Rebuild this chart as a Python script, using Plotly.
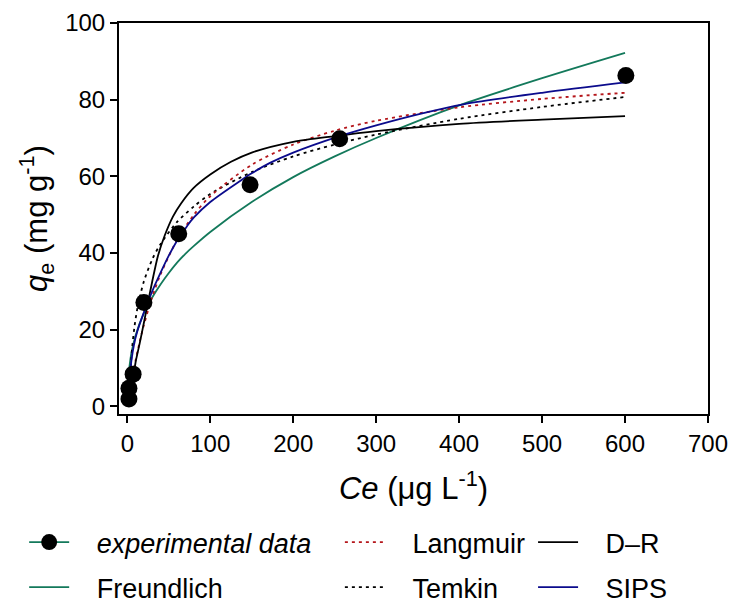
import plotly.graph_objects as go

# Experimental data
ce_exp = [2, 2, 7, 20, 62, 148, 256, 601]
qe_exp = [1.9, 4.7, 8.4, 27.1, 45.0, 57.8, 69.8, 86.3]

# Model curves
freundlich_x = [2, 5, 10, 20, 30, 40, 50, 60, 70, 80, 100, 150, 200, 250, 300, 400, 500, 600]
freundlich_y = [9.3, 14, 18.5, 24.3, 28.4, 31.8, 34.8, 37.5, 39.8, 41.8, 45.5, 53.3, 59.8, 65.2, 70, 78.5, 85.6, 92.2]

langmuir_x = [2, 5, 10, 15, 20, 30, 40, 60, 80, 100, 150, 200, 250, 300, 400, 500, 600]
langmuir_y = [2.7, 6.4, 12.0, 16.9, 21.2, 28.5, 34.4, 43.4, 49.9, 54.8, 63.0, 68.3, 71.9, 74.5, 78.0, 80.2, 81.8]

dr_x = [2, 5, 8, 10, 15, 20, 25, 30, 37, 45, 55, 65, 80, 100, 125, 150, 200, 250, 300, 400, 500, 600]
dr_y = [0.5, 4, 8.5, 11.5, 16.5, 21.8, 27.2, 32.5, 39.3, 44.5, 49.5, 53, 57, 60.5, 63.8, 66.2, 69, 70.5, 71.8, 73.7, 74.8, 75.7]

temkin_x = [2.5, 4, 6, 9, 13, 20, 30, 40, 60, 80, 100, 150, 200, 250, 300, 400, 500, 600]
temkin_y = [3, 9.8, 15.6, 21.3, 26.5, 32.6, 38.3, 42.3, 48.1, 52.1, 55.4, 61.1, 65.2, 68.3, 70.9, 75, 78.1, 80.7]

sips_x = [2, 5, 8, 12, 20, 30, 40, 50, 60, 72, 80, 100, 136, 150, 172, 200, 256, 300, 353, 405, 500, 600]
sips_y = [6, 12, 16, 19.5, 24.5, 30, 34.8, 39.3, 43.2, 47, 49.2, 53.3, 58.8, 60.8, 63.5, 66.2, 70.5, 73.3, 76.3, 78.8, 81.8, 84.5]

x_ticks = [0, 100, 200, 300, 400, 500, 600, 700]
y_ticks = [0, 20, 40, 60, 80, 100]

GREEN = "#13795B"
RED = "#B5161B"
BLUE = "#0B0B8C"
BLACK = "#000000"
FONT = "Arial, Liberation Sans, sans-serif"
PAD = "\u00a0\u00a0\u00a0"

fig = go.Figure()

def curve(x, y, name, color, dash, legend, rank):
    fig.add_trace(go.Scatter(
        x=x, y=y, mode="lines", name=PAD + name,
        line=dict(color=color, width=1.8, dash=dash, shape="spline", smoothing=0.8),
        legend=legend, legendrank=rank, legendgroup=name,
    ))

curve(freundlich_x, freundlich_y, "Freundlich", GREEN, "solid", "legend", 2)
curve(temkin_x, temkin_y, "Temkin", BLACK, "3px,4px", "legend2", 2)
curve(langmuir_x, langmuir_y, "Langmuir", RED, "3px,4px", "legend2", 1)
curve(dr_x, dr_y, "D–R", BLACK, "solid", "legend3", 1)
curve(sips_x, sips_y, "SIPS", BLUE, "solid", "legend3", 2)

# experimental points: isolated points (gaps) so the legend shows line + marker
ex, ey = [], []
for a, b in zip(ce_exp, qe_exp):
    ex += [a, None]
    ey += [b, None]
fig.add_trace(go.Scatter(
    x=ex, y=ey, mode="lines+markers", name=PAD + "<i>experimental data</i>",
    line=dict(color=GREEN, width=1.8), connectgaps=False,
    marker=dict(color=BLACK, size=17, line=dict(width=0)),
    legend="legend", legendrank=1, legendgroup="exp",
))

legend_common = dict(
    orientation="v", yanchor="top", xanchor="left",
    font=dict(family=FONT, size=27, color="black"),
    bgcolor="rgba(0,0,0,0)", itemwidth=40, tracegroupgap=7,
    itemclick=False, itemdoubleclick=False,
)

fig.update_layout(
    width=733, height=603,
    margin=dict(l=119, r=25, t=23, b=189, autoexpand=False),
    paper_bgcolor="white", plot_bgcolor="white",
    font=dict(family=FONT, size=24, color="black"),
    showlegend=True,
    legend=dict(x=-0.161, y=-0.266, **legend_common),
    legend2=dict(x=0.375, y=-0.266, **legend_common),
    legend3=dict(x=0.703, y=-0.266, **legend_common),
    xaxis=dict(
        range=[-10, 700], tickvals=x_ticks, ticktext=[str(v) for v in x_ticks],
        showgrid=False, zeroline=False, showline=True, linecolor="black", linewidth=2,
        mirror=True, ticks="outside", ticklen=7, tickwidth=2, tickcolor="black",
        tickfont=dict(size=24), automargin=False,
        title=dict(text="<i>Ce</i> (μg L<sup>-1</sup>)", font=dict(size=31), standoff=22),
    ),
    yaxis=dict(
        range=[-2, 100], tickvals=y_ticks, ticktext=[str(v) for v in y_ticks],
        showgrid=False, zeroline=False, showline=True, linecolor="black", linewidth=2,
        mirror=True, ticks="outside", ticklen=7, tickwidth=2, tickcolor="black",
        tickfont=dict(size=24), automargin=False,
        title=dict(text="<i>q</i><sub>e</sub> (mg g<sup>-1</sup>)", font=dict(size=31), standoff=8),
    ),
)

# remove the browser's default page margin so the figure fills the window exactly
fig.write_html(
    "out.html",
    config={"displayModeBar": False},
    post_script="document.body.style.margin='0';document.body.style.overflow='hidden';",
)
